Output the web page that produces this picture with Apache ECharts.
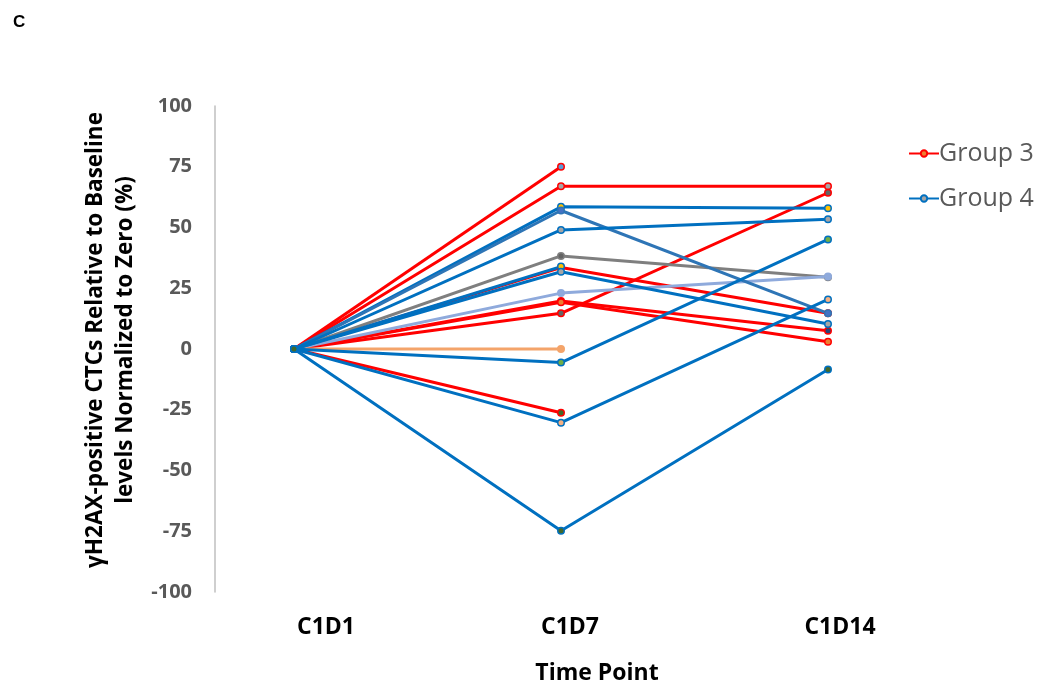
<!DOCTYPE html>
<html>
<head>
<meta charset="utf-8">
<script src="https://cdn.jsdelivr.net/npm/echarts@6/dist/echarts.min.js"></script>
<style>html,body{margin:0;padding:0;background:#fff}#c{width:1050px;height:693px}</style>
</head>
<body>
<div id="c"></div>
<script>
const categories = ['C1D1', 'C1D7', 'C1D14'];
const yMin = -100, yMax = 100, yStep = 25;

// Group 3 (red)
const g3_a = [0, 75, null];
const g3_b = [0, 67, 67];
const g3_c = [0, 33.5, 14.7];
const g3_d = [0, 19.8, 7.5];
const g3_e = [0, 19.2, 3];
const g3_f = [0, 14.7, 64.3];
const g3_g = [0, -26.2, null];
// Group 4 (blue)
const g4_a = [0, 58.5, 57.9];
const g4_b = [0, 57, 14.7];
const g4_c = [0, 49, 53.4];
const g4_d = [0, 33.9, null];
const g4_e = [0, 31.8, 10.3];
const g4_f = [0, -5.6, 45.1];
const g4_g = [0, -30.3, 20.4];
const g4_h = [0, -74.8, -8.4];
// other
const o_gray = [0, 38.3, 29.5];
const o_lightblue = [0, 23, 29.8];
const o_orange = [0, 0, null];

const RED = '#FF0000', BLUE = '#0070C0';
// horizontal nudge of each category label (px), as in the original figure
const labelNudge = [32, 9, 12];

function line(name, data, color, fill) {
  return {
    name: name, type: 'line', data: data,
    symbol: 'circle', symbolSize: 6.5,
    lineStyle: { color: color, width: 3 },
    itemStyle: { color: fill, borderColor: color, borderWidth: 1.5 },
    connectNulls: false, z: 2,
    emphasis: { disabled: true }
  };
}

const series = [
  line('Group 3', g3_a, RED, '#5B9BD5'),
  line('Group 3', g3_b, RED, '#A5A5A5'),
  line('Group 3', g3_c, RED, '#5B9BD5'),
  line('Group 3', g3_d, RED, '#264478'),
  line('Group 3', g3_e, RED, '#ED7D31'),
  line('Group 3', g3_f, RED, '#636363'),
  line('Group 3', g3_g, RED, '#43682B'),
  line('Other A', o_gray, '#7F7F7F', '#636363'),
  line('Other B', o_lightblue, '#8FAADC', '#8FAADC'),
  line('Other C', o_orange, '#F4A46A', '#F4A46A'),
  line('Group 4', g4_a, BLUE, '#FFC000'),
  line('Group 4', g4_b, '#2E75B6', '#4472C4'),
  line('Group 4', g4_c, BLUE, '#A5A5A5'),
  line('Group 4', g4_d, BLUE, '#FFC000'),
  line('Group 4', g4_e, BLUE, '#A5A5A5'),
  line('Group 4', g4_f, BLUE, '#70AD47'),
  line('Group 4', g4_g, BLUE, '#F4B183'),
  line('Group 4', g4_h, BLUE, '#43682B')
];

const xData = categories.map((c, i) => ({ value: c, textStyle: { padding: [0, 0, 0, 2 * labelNudge[i]] } }));

const chart = echarts.init(document.getElementById('c'));
chart.setOption({
  animation: false,
  backgroundColor: '#fff',
  title: {
    text: 'C', left: 8, top: 9,
    textStyle: { fontFamily: 'Liberation Sans', fontWeight: 'bold', fontSize: 17, color: '#000' }
  },
  legend: {
    orient: 'vertical', left: 903, top: 136, itemGap: 20,
    itemWidth: 30, itemHeight: 8,
    textStyle: { fontFamily: 'Open Sans', fontSize: 25, color: '#595959', padding: [0, 0, 0, -5] },
    data: [
      { name: 'Group 3', itemStyle: { color: '#ED7D31', borderColor: RED } },
      { name: 'Group 4', itemStyle: { color: '#A5A5A5', borderColor: BLUE } }
    ]
  },
  grid: { left: 294, right: 222, top: 106, bottom: 101, containLabel: false },
  xAxis: {
    type: 'category', data: xData, boundaryGap: false,
    name: 'Time Point', nameLocation: 'middle', nameGap: 70,
    nameTextStyle: { fontFamily: 'Open Sans', fontWeight: 'bold', fontSize: 23, color: '#000', padding: [0, 0, 0, 72] },
    axisLine: { show: false }, axisTick: { show: false },
    axisLabel: { margin: 24, fontFamily: 'Open Sans', fontWeight: 'bold', fontSize: 23, color: '#000' },
    splitLine: { show: false }
  },
  yAxis: {
    type: 'value', min: yMin, max: yMax, interval: yStep, offset: 79,
    name: 'γH2AX-positive CTCs Relative to Baseline\nlevels Normalized to Zero (%)',
    nameLocation: 'middle', nameGap: 60, nameRotate: 90,
    nameTextStyle: { fontFamily: 'Open Sans', fontWeight: 'bold', fontSize: 22.5, color: '#000', lineHeight: 30, padding: [0, 0, 0, 18] },
    axisLine: { show: true, lineStyle: { color: '#BFBFBF', width: 1.5 } },
    axisTick: { show: false },
    axisLabel: { margin: 23, fontFamily: 'Open Sans', fontWeight: 'bold', fontSize: 20, color: '#595959' },
    splitLine: { show: false }
  },
  series: series
});
</script>
</body>
</html>
